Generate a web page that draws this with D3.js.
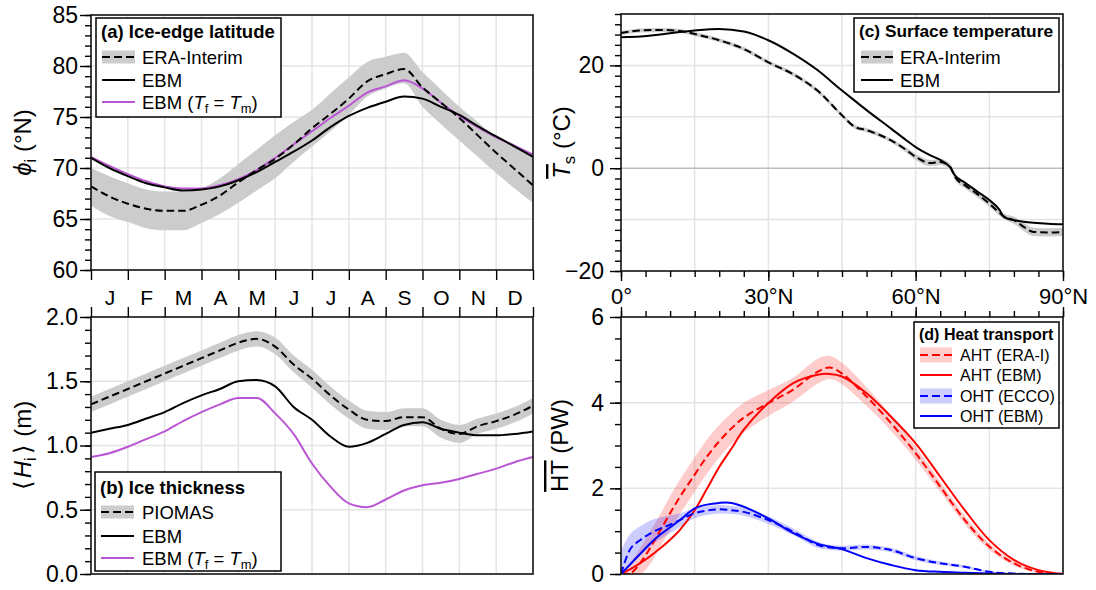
<!DOCTYPE html>
<html>
<head>
<meta charset="utf-8">
<script src="https://cdn.jsdelivr.net/npm/d3@7"></script>
<style>
  body { margin: 0; background: #fff; }
  svg { display: block; font-family: "Liberation Sans", Arial, Helvetica, sans-serif; }
</style>
</head>
<body>
<svg id="fig" width="1096" height="590"></svg>
<script>
// ---------- (a) ice-edge latitude, by month position (0 = 1 Jan, 12 = 31 Dec) ----------
const monthLabels = ["J", "F", "M", "A", "M", "J", "J", "A", "S", "O", "N", "D"];
const monthPos = [0, 0.5, 1, 1.5, 2, 2.5, 3, 3.5, 4, 4.5, 5, 5.5, 6, 6.5, 7, 7.5, 8, 8.5, 9, 9.5, 10, 10.5, 11, 11.5, 12];
const edgeEra   = [68.2, 67.2, 66.5, 66.0, 65.8, 65.8, 66.4, 67.3, 68.6, 69.8, 70.9, 72.3, 73.9, 75.3, 76.8, 78.5, 79.2, 79.7, 77.9, 76.4, 74.9, 73.2, 71.5, 69.9, 68.3];
const edgeEraLo = [66.3, 65.3, 64.7, 64.1, 63.9, 63.9, 64.6, 65.5, 66.6, 67.8, 69.0, 70.6, 72.1, 73.6, 75.2, 77.0, 77.8, 78.3, 76.0, 74.3, 72.7, 71.1, 69.5, 68.0, 66.6];
const edgeEraHi = [70.0, 69.2, 68.5, 67.9, 67.7, 67.7, 68.0, 69.0, 70.4, 71.8, 73.2, 74.5, 75.7, 77.3, 78.9, 80.4, 80.9, 81.3, 79.4, 77.7, 76.0, 74.5, 73.0, 72.0, 71.1];
const edgeEbm   = [71.0, 70.0, 69.2, 68.5, 68.1, 67.8, 67.9, 68.2, 68.8, 69.6, 70.6, 71.6, 72.7, 74.0, 75.1, 75.9, 76.5, 77.0, 76.8, 76.0, 75.2, 74.1, 73.1, 72.1, 71.1];
const edgeEbmTm = [71.1, 70.2, 69.4, 68.7, 68.2, 68.0, 68.0, 68.3, 68.9, 69.8, 71.0, 72.3, 73.6, 74.9, 76.1, 77.4, 78.0, 78.6, 77.8, 76.4, 75.1, 74.0, 73.0, 72.2, 71.3];

// ---------- (b) mean ice thickness (m) ----------
const thickPiomas   = [1.32, 1.38, 1.44, 1.50, 1.56, 1.62, 1.68, 1.74, 1.80, 1.83, 1.77, 1.63, 1.52, 1.39, 1.28, 1.20, 1.19, 1.22, 1.22, 1.13, 1.09, 1.15, 1.19, 1.24, 1.31];
const thickPiomasLo = [1.26, 1.32, 1.38, 1.44, 1.50, 1.56, 1.62, 1.68, 1.74, 1.77, 1.71, 1.57, 1.45, 1.32, 1.21, 1.13, 1.12, 1.15, 1.15, 1.06, 1.02, 1.09, 1.13, 1.18, 1.25];
const thickPiomasHi = [1.38, 1.44, 1.50, 1.56, 1.62, 1.68, 1.74, 1.80, 1.86, 1.89, 1.84, 1.70, 1.59, 1.46, 1.35, 1.27, 1.26, 1.29, 1.29, 1.20, 1.16, 1.21, 1.25, 1.30, 1.37];
const thickEbm      = [1.10, 1.13, 1.16, 1.21, 1.26, 1.33, 1.39, 1.44, 1.50, 1.51, 1.46, 1.30, 1.20, 1.07, 0.99, 1.02, 1.09, 1.16, 1.18, 1.13, 1.10, 1.08, 1.08, 1.09, 1.11];
const thickEbmTm    = [0.91, 0.94, 0.99, 1.05, 1.11, 1.19, 1.26, 1.32, 1.37, 1.37, 1.25, 1.09, 0.86, 0.68, 0.55, 0.52, 0.58, 0.65, 0.69, 0.71, 0.74, 0.78, 0.82, 0.87, 0.91];

// ---------- (c) annual-mean surface temperature (°C) vs latitude ----------
const latT      = [0, 4, 8, 12, 15, 20, 25, 30, 35, 40, 45, 47.5, 50, 55, 58, 60, 63, 65, 67, 68, 70, 72.5, 75, 77, 78, 80, 82, 84, 87, 90];
const tempEra   = [26.3, 26.8, 26.9, 26.7, 26.1, 24.9, 23.2, 20.6, 18.3, 15.1, 10.3, 8.1, 7.4, 5.4, 3.6, 2.2, 1.0, 1.2, 0.3, -1.7, -3.3, -5.0, -6.9, -8.6, -9.4, -10.1, -11.4, -12.4, -12.5, -12.4];
const tempEraLo = [25.9, 26.4, 26.5, 26.3, 25.7, 24.5, 22.8, 20.2, 17.9, 14.7, 9.9, 7.7, 7.0, 5.0, 3.1, 1.6, 0.4, 0.6, -0.3, -2.3, -3.9, -5.6, -7.5, -9.2, -10.0, -10.8, -12.2, -13.2, -13.3, -13.2];
const tempEraHi = [26.7, 27.2, 27.3, 27.1, 26.5, 25.3, 23.6, 21.0, 18.7, 15.5, 10.7, 8.5, 7.8, 5.8, 4.1, 2.8, 1.6, 1.8, 0.9, -1.1, -2.7, -4.4, -6.3, -8.0, -8.8, -9.4, -10.6, -11.6, -11.7, -11.6];
const tempEbm   = [25.5, 25.6, 26.0, 26.5, 26.8, 27.1, 26.6, 24.9, 22.3, 19.1, 15.1, 13.2, 11.3, 7.7, 5.5, 4.1, 2.5, 1.6, 0.2, -1.4, -2.8, -4.5, -6.2, -8.0, -9.5, -10.1, -10.4, -10.6, -10.8, -10.9];

// ---------- (d) northward heat transport (PW) vs latitude ----------
const latHT     = [0, 2, 4, 6, 8, 10, 12, 15, 17.5, 20, 22.5, 25, 30, 35, 40, 42.5, 45, 50, 55, 60, 65, 70, 75, 80, 85, 90];
const ahtEra    = [0.00, 0.02, 0.27, 0.62, 1.02, 1.42, 1.80, 2.32, 2.74, 3.10, 3.40, 3.65, 3.99, 4.30, 4.72, 4.82, 4.68, 4.14, 3.52, 2.82, 2.04, 1.26, 0.64, 0.25, 0.05, 0.00];
const ahtEraLo  = [0.00, 0.00, 0.00, 0.24, 0.64, 1.02, 1.40, 1.92, 2.34, 2.72, 3.04, 3.30, 3.69, 4.02, 4.44, 4.55, 4.43, 3.92, 3.34, 2.67, 1.92, 1.16, 0.56, 0.20, 0.02, 0.00];
const ahtEraHi  = [0.00, 0.28, 0.62, 1.00, 1.40, 1.82, 2.20, 2.72, 3.14, 3.48, 3.76, 4.00, 4.29, 4.58, 5.02, 5.09, 4.93, 4.36, 3.70, 2.97, 2.16, 1.36, 0.72, 0.30, 0.08, 0.00];
const ahtEbm    = [0.00, 0.12, 0.26, 0.42, 0.60, 0.80, 1.03, 1.49, 1.99, 2.50, 2.93, 3.37, 3.99, 4.45, 4.65, 4.67, 4.61, 4.22, 3.67, 3.05, 2.27, 1.49, 0.79, 0.33, 0.09, 0.00];
const ohtEcco   = [0.00, 0.60, 0.80, 0.95, 1.06, 1.15, 1.26, 1.42, 1.48, 1.51, 1.49, 1.45, 1.26, 0.99, 0.68, 0.62, 0.60, 0.63, 0.56, 0.37, 0.25, 0.17, 0.05, 0.01, 0.00, 0.00];
const ohtEccoLo = [0.00, 0.22, 0.45, 0.65, 0.82, 0.95, 1.10, 1.30, 1.38, 1.41, 1.40, 1.36, 1.17, 0.91, 0.61, 0.56, 0.54, 0.57, 0.51, 0.32, 0.21, 0.14, 0.03, 0.00, 0.00, 0.00];
const ohtEccoHi = [0.55, 0.95, 1.12, 1.25, 1.32, 1.37, 1.42, 1.53, 1.58, 1.61, 1.59, 1.55, 1.35, 1.07, 0.76, 0.68, 0.66, 0.69, 0.61, 0.42, 0.29, 0.20, 0.07, 0.02, 0.00, 0.00];
const ohtEbm    = [0.00, 0.24, 0.48, 0.72, 0.92, 1.09, 1.26, 1.53, 1.62, 1.66, 1.66, 1.57, 1.30, 0.96, 0.71, 0.64, 0.58, 0.37, 0.21, 0.09, 0.05, 0.03, 0.01, 0.00, 0.00, 0.00];

// Tick settings
const latMajor = [0, 30, 60, 90];
const latLabels = ["0°", "30°N", "60°N", "90°N"];

// ---------- styling ----------
const FONT = "'Liberation Sans', Arial, Helvetica, sans-serif";
const GRID = "#e4e4e4";
const BAND_GREY = "#cccccc";
const BAND_RED = "rgba(255,0,0,0.2)";
const BAND_BLUE = "rgba(0,0,255,0.2)";
const PURPLE = "#ba55d3";
const DASH = "7.5,4";

const svg = d3.select("#fig");
const defs = svg.append("defs");

// panel boxes
const PA = { x0: 91,  x1: 533,  y0: 15,  y1: 270 };
const PB = { x0: 91,  x1: 533,  y0: 317, y1: 574 };
const PC = { x0: 621, x1: 1063, y0: 14,  y1: 271 };
const PD = { x0: 621, x1: 1063, y0: 317, y1: 574 };

// scales
const xMonA = d3.scaleLinear().domain([0, 12]).range([PA.x0, PA.x1]);
const xMonB = d3.scaleLinear().domain([0, 12]).range([PB.x0, PB.x1]);
const yA = d3.scaleLinear().domain([60, 85]).range([PA.y1, PA.y0]);
const yB = d3.scaleLinear().domain([0, 2]).range([PB.y1, PB.y0]);
const xLatC = d3.scaleLinear().domain([0, 90]).range([PC.x0, PC.x1]);
const xLatD = d3.scaleLinear().domain([0, 90]).range([PD.x0, PD.x1]);
const yC = d3.scaleLinear().domain([-20, 30]).range([PC.y1, PC.y0]);
const yD = d3.scaleLinear().domain([0, 6]).range([PD.y1, PD.y0]);

// helpers
function clipFor(id, p) {
  defs.append("clipPath").attr("id", id).append("rect")
    .attr("x", p.x0).attr("y", p.y0).attr("width", p.x1 - p.x0).attr("height", p.y1 - p.y0);
  return svg.append("g").attr("clip-path", `url(#${id})`);
}
function gridV(g, vals, x, p, color) {
  g.selectAll(null).data(vals).join("line")
    .attr("x1", d => x(d)).attr("x2", d => x(d)).attr("y1", p.y0).attr("y2", p.y1)
    .attr("stroke", color || GRID).attr("stroke-width", 1.5);
}
function gridH(g, vals, y, p, color) {
  g.selectAll(null).data(vals).join("line")
    .attr("y1", d => y(d)).attr("y2", d => y(d)).attr("x1", p.x0).attr("x2", p.x1)
    .attr("stroke", d => (typeof color === "function" ? color(d) : (color || GRID))).attr("stroke-width", 1.5);
}
function band(g, xs, lo, hi, x, y, fill, cv) {
  const idx = d3.range(xs.length);
  g.append("path").datum(idx)
    .attr("d", d3.area().x(i => x(xs[i])).y0(i => y(lo[i])).y1(i => y(hi[i])).curve(cv || d3.curveMonotoneX))
    .attr("fill", fill).attr("stroke", "none");
}
function curve(g, xs, ys, x, y, color, dash, cv) {
  const idx = d3.range(xs.length);
  g.append("path").datum(idx)
    .attr("d", d3.line().x(i => x(xs[i])).y(i => y(ys[i])).curve(cv || d3.curveMonotoneX))
    .attr("fill", "none").attr("stroke", color).attr("stroke-width", 2)
    .attr("stroke-dasharray", dash || null).attr("stroke-linejoin", "round");
}
function frame(p) {
  svg.append("rect").attr("x", p.x0).attr("y", p.y0)
    .attr("width", p.x1 - p.x0).attr("height", p.y1 - p.y0)
    .attr("fill", "none").attr("stroke", "#111").attr("stroke-width", 1.6);
}
function styleAxis(g, size) {
  g.attr("font-family", FONT).attr("font-size", size);
  g.select(".domain").remove();
  g.selectAll(".tick line").attr("stroke", "#000").attr("stroke-width", 1.4);
  g.selectAll(".tick text").attr("fill", "#000");
  return g;
}
// rich text with italic / subscript / overline runs
function rich(text, parts, size) {
  let shift = 0;
  parts.forEach(p => {
    const ts = text.append("tspan").text(p.t);
    const target = p.sub ? size * 0.22 : 0;
    if (target !== shift) ts.attr("dy", target - shift);
    shift = target;
    if (p.sub) ts.attr("font-size", size * 0.7);
    if (p.it) ts.attr("font-style", "italic");
    if (p.over) ts.style("text-decoration", "overline");
    if (p.dx) ts.attr("dx", p.dx);
  });
}
function yTitle(x, y, parts, size) {
  const t = svg.append("text").attr("transform", `translate(${x},${y}) rotate(-90)`)
    .attr("text-anchor", "middle").attr("font-size", size).attr("font-family", FONT).attr("fill", "#000");
  rich(t, parts, size);
}
function legend(o) {
  const g = svg.append("g").attr("font-family", FONT);
  g.append("rect").attr("x", o.x).attr("y", o.y).attr("width", o.w).attr("height", o.h)
    .attr("fill", "#fff").attr("stroke", "#000").attr("stroke-width", 1.5);
  g.append("text").attr("x", o.tx).attr("y", o.ty).attr("font-weight", "bold")
    .attr("font-size", o.titleSize).text(o.title);
  o.rows.forEach(r => {
    if (r.band) {
      g.append("rect").attr("x", o.sx0).attr("y", r.cy - o.bh / 2).attr("width", o.sx1 - o.sx0)
        .attr("height", o.bh).attr("fill", r.band);
    }
    g.append("line").attr("x1", o.sx0).attr("x2", o.sx1).attr("y1", r.cy).attr("y2", r.cy)
      .attr("stroke", r.color).attr("stroke-width", 2).attr("stroke-dasharray", r.dash ? "8,4" : null);
    const t = g.append("text").attr("x", o.lx).attr("y", r.cy + o.size * 0.36).attr("font-size", o.size);
    rich(t, r.parts, o.size);
  });
}
const ebmTmParts = [{ t: "EBM (" }, { t: "T", it: true }, { t: "f", sub: true }, { t: " = " }, { t: "T", it: true }, { t: "m", sub: true }, { t: ")" }];

// ======================= (a) =======================
{
  const g = clipFor("clipA", PA);
  gridV(g, d3.range(1, 12), xMonA, PA);
  gridH(g, [65, 70, 75, 80], yA, PA);
  band(g, monthPos, edgeEraLo, edgeEraHi, xMonA, yA, BAND_GREY);
  curve(g, monthPos, edgeEbmTm, xMonA, yA, PURPLE);
  curve(g, monthPos, edgeEbm, xMonA, yA, "#000");
  curve(g, monthPos, edgeEra, xMonA, yA, "#000", DASH);
  frame(PA);

  styleAxis(svg.append("g").attr("transform", `translate(${PA.x0},0)`)
    .call(d3.axisLeft(yA).tickValues(d3.range(60, 86)).tickFormat("").tickSize(6)), 23);
  styleAxis(svg.append("g").attr("transform", `translate(${PA.x0},0)`)
    .call(d3.axisLeft(yA).tickValues([60, 65, 70, 75, 80, 85]).tickFormat(d3.format("d")).tickSize(11).tickPadding(2)), 23);
  styleAxis(svg.append("g").attr("transform", `translate(0,${PA.y1})`)
    .call(d3.axisBottom(xMonA).tickValues(d3.range(0, 13)).tickFormat("").tickSize(10)), 21);
  // month initials centred in each month
  styleAxis(svg.append("g").attr("transform", `translate(0,${PA.y1})`)
    .call(d3.axisBottom(xMonA).tickValues(d3.range(12).map(i => i + 0.5))
      .tickFormat((d, i) => monthLabels[i]).tickSize(0).tickPadding(20)), 21);

  yTitle(31, (PA.y0 + PA.y1) / 2, [{ t: "ϕ", it: true }, { t: "i", sub: true }, { t: " (°N)" }], 24);

  legend({
    x: 96, y: 18, w: 185, h: 99, tx: 101, ty: 38, title: "(a) Ice-edge latitude", titleSize: 18.5,
    sx0: 102, sx1: 135, lx: 142, bh: 13, size: 18.5,
    rows: [
      { cy: 57, color: "#000", dash: true, band: BAND_GREY, parts: [{ t: "ERA-Interim" }] },
      { cy: 80, color: "#000", parts: [{ t: "EBM" }] },
      { cy: 102, color: PURPLE, parts: ebmTmParts }
    ]
  });
}

// ======================= (b) =======================
{
  const g = clipFor("clipB", PB);
  gridV(g, d3.range(1, 12), xMonB, PB);
  gridH(g, [0.5, 1.0, 1.5], yB, PB);
  band(g, monthPos, thickPiomasLo, thickPiomasHi, xMonB, yB, BAND_GREY);
  curve(g, monthPos, thickEbmTm, xMonB, yB, PURPLE);
  curve(g, monthPos, thickEbm, xMonB, yB, "#000");
  curve(g, monthPos, thickPiomas, xMonB, yB, "#000", DASH);
  frame(PB);

  styleAxis(svg.append("g").attr("transform", `translate(${PB.x0},0)`)
    .call(d3.axisLeft(yB).tickValues(d3.range(0, 21).map(i => i / 10)).tickFormat("").tickSize(6)), 23);
  styleAxis(svg.append("g").attr("transform", `translate(${PB.x0},0)`)
    .call(d3.axisLeft(yB).tickValues([0, 0.5, 1.0, 1.5, 2.0]).tickFormat(d3.format(".1f")).tickSize(11).tickPadding(2)), 23);
  styleAxis(svg.append("g").attr("transform", `translate(0,${PB.y0})`)
    .call(d3.axisTop(xMonB).tickValues(d3.range(0, 13)).tickFormat("").tickSize(10)), 21);

  yTitle(31, (PB.y0 + PB.y1) / 2,
    [{ t: "⟨" }, { t: "H", it: true, dx: 3 }, { t: "i", sub: true }, { t: "⟩", dx: 3 }, { t: " (m)", dx: 2 }], 24);

  legend({
    x: 95, y: 472, w: 186, h: 99, tx: 100, ty: 494, title: "(b) Ice thickness", titleSize: 18.5,
    sx0: 101, sx1: 134, lx: 142, bh: 13, size: 18.5,
    rows: [
      { cy: 512, color: "#000", dash: true, band: BAND_GREY, parts: [{ t: "PIOMAS" }] },
      { cy: 536, color: "#000", parts: [{ t: "EBM" }] },
      { cy: 558, color: PURPLE, parts: ebmTmParts }
    ]
  });
}

// ======================= (c) =======================
{
  const g = clipFor("clipC", PC);
  gridV(g, [15, 30, 45, 60, 75], xLatC, PC);
  gridH(g, [-10, 0, 10, 20], yC, PC, d => (d === 0 ? "#bdbdbd" : GRID));
  band(g, latT, tempEraLo, tempEraHi, xLatC, yC, BAND_GREY);
  curve(g, latT, tempEbm, xLatC, yC, "#000");
  curve(g, latT, tempEra, xLatC, yC, "#000", DASH);
  frame(PC);

  styleAxis(svg.append("g").attr("transform", `translate(${PC.x0},0)`)
    .call(d3.axisLeft(yC).tickValues(d3.range(-20, 31, 2)).tickFormat("").tickSize(6)), 23);
  styleAxis(svg.append("g").attr("transform", `translate(${PC.x0},0)`)
    .call(d3.axisLeft(yC).tickValues([-20, 0, 20]).tickFormat(d3.format("d")).tickSize(11).tickPadding(6)), 23);
  styleAxis(svg.append("g").attr("transform", `translate(0,${PC.y1})`)
    .call(d3.axisBottom(xLatC).tickValues(d3.range(0, 91, 5)).tickFormat("").tickSize(6)), 22);
  styleAxis(svg.append("g").attr("transform", `translate(0,${PC.y1})`)
    .call(d3.axisBottom(xLatC).tickValues(latMajor).tickFormat((d, i) => latLabels[i]).tickSize(10).tickPadding(7)), 22);

  yTitle(570, (PC.y0 + PC.y1) / 2, [{ t: "T", it: true, over: true }, { t: "s", sub: true }, { t: " (°C)" }], 24);

  legend({
    x: 854, y: 18, w: 205, h: 74, tx: 859, ty: 37, title: "(c) Surface temperature", titleSize: 17.3,
    sx0: 861, sx1: 893, lx: 900, bh: 13, size: 18.5,
    rows: [
      { cy: 57, color: "#000", dash: true, band: BAND_GREY, parts: [{ t: "ERA-Interim" }] },
      { cy: 80, color: "#000", parts: [{ t: "EBM" }] }
    ]
  });
}

// ======================= (d) =======================
{
  const g = clipFor("clipD", PD);
  const smooth = d3.curveCatmullRom.alpha(0.5);
  gridV(g, [15, 30, 45, 60, 75], xLatD, PD);
  gridH(g, [2, 4], yD, PD);
  band(g, latHT, ahtEraLo, ahtEraHi, xLatD, yD, BAND_RED, smooth);
  band(g, latHT, ohtEccoLo, ohtEccoHi, xLatD, yD, BAND_BLUE, smooth);
  curve(g, latHT, ahtEbm, xLatD, yD, "#ff0000", null, smooth);
  curve(g, latHT, ahtEra, xLatD, yD, "#ff0000", DASH, smooth);
  curve(g, latHT, ohtEbm, xLatD, yD, "#0000ff", null, smooth);
  curve(g, latHT, ohtEcco, xLatD, yD, "#0000ff", DASH, smooth);
  frame(PD);

  styleAxis(svg.append("g").attr("transform", `translate(${PD.x0},0)`)
    .call(d3.axisLeft(yD).tickValues(d3.range(0, 13).map(i => i / 2)).tickFormat("").tickSize(6)), 23);
  styleAxis(svg.append("g").attr("transform", `translate(${PD.x0},0)`)
    .call(d3.axisLeft(yD).tickValues([0, 2, 4, 6]).tickFormat(d3.format("d")).tickSize(11).tickPadding(6)), 23);
  styleAxis(svg.append("g").attr("transform", `translate(0,${PD.y0})`)
    .call(d3.axisTop(xLatD).tickValues(d3.range(0, 91, 5)).tickFormat("").tickSize(6)), 22);
  styleAxis(svg.append("g").attr("transform", `translate(0,${PD.y0})`)
    .call(d3.axisTop(xLatD).tickValues(latMajor).tickFormat("").tickSize(10)), 22);

  yTitle(568, (PD.y0 + PD.y1) / 2, [{ t: "HT", over: true }, { t: " (PW)" }], 24);

  legend({
    x: 914, y: 322, w: 145, h: 106, tx: 919, ty: 340, title: "(d) Heat transport", titleSize: 16,
    sx0: 920, sx1: 952, lx: 960, bh: 15, size: 16,
    rows: [
      { cy: 355, color: "#ff0000", dash: true, band: BAND_RED, parts: [{ t: "AHT (ERA-I)" }] },
      { cy: 375, color: "#ff0000", parts: [{ t: "AHT (EBM)" }] },
      { cy: 396, color: "#0000ff", dash: true, band: BAND_BLUE, parts: [{ t: "OHT (ECCO)" }] },
      { cy: 416, color: "#0000ff", parts: [{ t: "OHT (EBM)" }] }
    ]
  });
}
</script>
</body>
</html>
